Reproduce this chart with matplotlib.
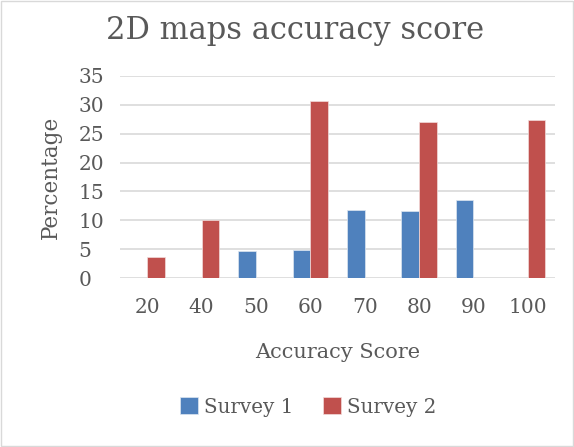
import numpy as np
import matplotlib
matplotlib.use("Agg")
from matplotlib import pyplot as plt
from matplotlib.patches import Rectangle

# datos
scores = ["20", "40", "50", "60", "70", "80", "90", "100"]
survey_1 = [0, 0, 4.7, 4.9, 11.8, 11.6, 13.5, 0]
survey_2 = [3.6, 10.1, 0, 30.7, 0, 27.0, 0, 27.4]

BLUE = "#4f81bd"
RED = "#c0504d"
TXT = "#595959"

plt.rcParams["font.family"] = ["DejaVu Serif"]

fig = plt.figure(figsize=(5.74, 4.47), dpi=100)
ax = fig.add_axes([120 / 574, 1 - 278.3 / 447, 435 / 574, 202.6 / 447])

x = np.arange(len(scores))
w = 0.325
ax.bar(x - w / 2, survey_1, w, color=BLUE, edgecolor="#dde6f1", linewidth=0.5, label="Survey 1", zorder=3)
ax.bar(x + w / 2, survey_2, w, color=RED, edgecolor="#f2dcdb", linewidth=0.5, label="Survey 2", zorder=3)

ax.set_xlim(-0.5, len(scores) - 0.5)
ax.set_ylim(0, 35)
ax.set_yticks(range(0, 36, 5))
ax.set_xticks(x)
ax.set_xticklabels(scores)
ax.grid(axis="y", color="#d9d9d9", linewidth=1.2, zorder=0)
for s in ax.spines.values():
    s.set_visible(False)
ax.tick_params(axis="y", length=0, labelsize=14.5, labelcolor=TXT, pad=30)
ax.tick_params(axis="x", length=0, labelsize=14.5, labelcolor=TXT, pad=14)
for lbl in ax.get_yticklabels():
    lbl.set_horizontalalignment("left")

ax.set_xlabel("Accuracy Score", fontsize=15, color=TXT, labelpad=19)
ax.set_ylabel("Percentage", fontsize=15.5, color=TXT, labelpad=12)
fig.text(0.5 + 8 / 574, 1 - 31 / 447, "2D maps accuracy score", ha="center", va="center",
         fontsize=22, color=TXT)

fig.legend(loc="center", bbox_to_anchor=(308.5 / 574, 1 - 407 / 447), ncol=2, frameon=False,
           fontsize=14.3, labelcolor=TXT, handlelength=0.9, handleheight=0.9,
           handletextpad=0.3, columnspacing=1.5)

fig.patches.append(Rectangle((0.002, 0.002), 0.996, 0.996, transform=fig.transFigure,
                             fill=False, edgecolor="#d9d9d9", linewidth=1))

fig.savefig("out.png", dpi=100)
